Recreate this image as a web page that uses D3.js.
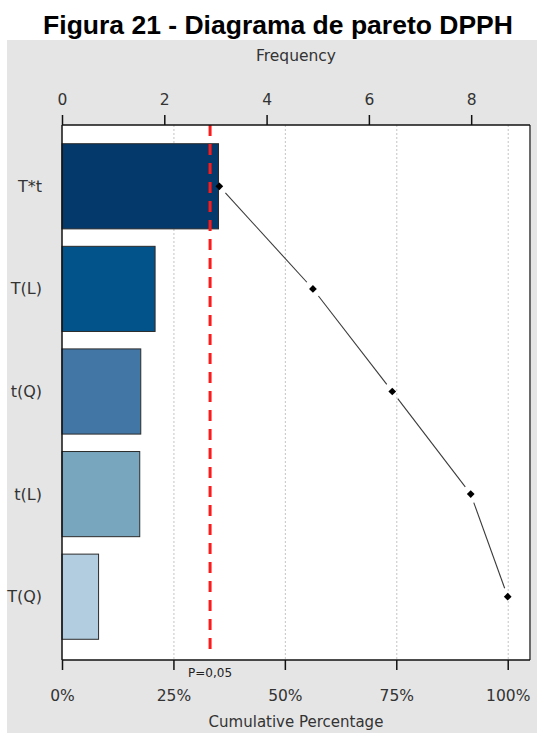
<!DOCTYPE html>
<html>
<head>
<meta charset="utf-8">
<script src="https://cdn.jsdelivr.net/npm/d3@7"></script>
<style>
  html, body { margin: 0; padding: 0; background: #ffffff; }
  svg { display: block; }
  text { font-family: "DejaVu Sans", sans-serif; }
</style>
</head>
<body>
<svg id="chart" width="537" height="733"></svg>
<script>
// Effects, in Pareto order
const categories = ["T*t", "T(L)", "t(Q)", "t(L)", "T(Q)"];
// Bar lengths on the Frequency axis
const frequency = [3.06, 1.82, 1.54, 1.52, 0.715];
// Cumulative percentage at each effect
const cumulativePct = [35.3, 56.3, 74.1, 91.7, 100];
// Bar fills
const barColors = ["#03396b", "#03538b", "#4277a5", "#79a6bf", "#b3cde0"];
// Axis ticks
const freqTicks = [0, 2, 4, 6, 8];
const pctTicks = [0, 25, 50, 75, 100];
// Significance limit (p = 0.05) on the Frequency axis
const pLimit = 2.895;
const pLabel = "P=0,05";

const svg = d3.select("#chart");
const W = 537, H = 733;
const plot = { left: 62, right: 530, top: 125, bottom: 660 };

// Gray panel behind the plot
svg.append("rect").attr("x", 7).attr("y", 40).attr("width", W - 7).attr("height", H - 40)
  .attr("fill", "#e5e5e5");

svg.append("text").attr("x", 278).attr("y", 34).attr("text-anchor", "middle")
  .style("font-family", "'Liberation Sans', Arial, sans-serif")
  .style("font-weight", "bold").style("font-size", "26.5px").attr("fill", "#000")
  .text("Figura 21 - Diagrama de pareto DPPH");

const xFreq = d3.scaleLinear().domain([0, 9.15]).range([plot.left, plot.right]);
const xPct = d3.scaleLinear().domain([0, 105]).range([plot.left, plot.right]);
const y = d3.scaleBand().domain(categories)
  .range([plot.top + 10, plot.bottom - 12]).paddingInner(0.17).paddingOuter(0.085);

// Plot area
svg.append("rect").attr("x", plot.left).attr("y", plot.top)
  .attr("width", plot.right - plot.left).attr("height", plot.bottom - plot.top)
  .attr("fill", "#ffffff");

// Dotted gridlines at the percentage ticks
svg.append("g").selectAll("line").data(pctTicks.filter(d => d > 0)).join("line")
  .attr("x1", d => xPct(d) + 0.5).attr("x2", d => xPct(d) + 0.5)
  .attr("y1", plot.top).attr("y2", plot.bottom)
  .attr("stroke", "#c4c4c4").attr("stroke-width", 1).attr("stroke-dasharray", "2,2");

// Bars
svg.append("g").selectAll("rect").data(categories).join("rect")
  .attr("x", xFreq(0)).attr("y", d => y(d))
  .attr("width", (d, i) => xFreq(frequency[i]) - xFreq(0))
  .attr("height", y.bandwidth())
  .attr("fill", (d, i) => barColors[i])
  .attr("stroke", "#2b2b2b").attr("stroke-width", 1);

// Significance limit
svg.append("line")
  .attr("x1", xFreq(pLimit)).attr("x2", xFreq(pLimit))
  .attr("y1", plot.top).attr("y2", plot.bottom - 4)
  .attr("stroke", "#ff1a1a").attr("stroke-width", 3).attr("stroke-dasharray", "11,8");

// Cumulative line: segments stop short of each marker
const pts = categories.map((c, i) => [xPct(cumulativePct[i]), y(c) + y.bandwidth() / 2]);
const gap = 9;
const segs = d3.pairs(pts).map(([a, b]) => {
  const dx = b[0] - a[0], dy = b[1] - a[1], len = Math.hypot(dx, dy);
  const ux = dx / len, uy = dy / len;
  return [[a[0] + ux * gap, a[1] + uy * gap], [b[0] - ux * gap, b[1] - uy * gap]];
});
svg.append("g").selectAll("path").data(segs).join("path")
  .attr("d", d => d3.line()(d)).attr("fill", "none")
  .attr("stroke", "#3a3a3a").attr("stroke-width", 1.1);

svg.append("g").selectAll("path").data(pts).join("path")
  .attr("d", d3.symbol(d3.symbolSquare, 30))
  .attr("transform", d => `translate(${d[0]},${d[1]}) rotate(45)`)
  .attr("fill", "#000");

// Plot frame
svg.append("line").attr("x1", plot.right).attr("x2", plot.right)
  .attr("y1", plot.top).attr("y2", plot.bottom).attr("stroke", "#6a6a6a").attr("stroke-width", 2);
svg.append("line").attr("x1", plot.left).attr("x2", plot.left)
  .attr("y1", plot.top).attr("y2", plot.bottom).attr("stroke", "#111").attr("stroke-width", 1.5);

// Top axis: Frequency
const topAxis = d3.axisTop(xFreq).tickValues(freqTicks).tickSize(10).tickPadding(10.5)
  .tickFormat(d3.format("d"));
const gTop = svg.append("g").attr("transform", `translate(0,${plot.top})`).call(topAxis);
gTop.select(".domain").attr("stroke", "#111").attr("stroke-width", 1.5)
  .attr("d", `M${plot.left},0H${plot.right}`);
gTop.selectAll(".tick line").attr("stroke", "#111").attr("stroke-width", 1.5);
gTop.selectAll(".tick text").attr("fill", "#333").style("font-size", "15.5px")
  .style("font-family", "'DejaVu Sans', sans-serif");

// Bottom axis: Cumulative Percentage
const botAxis = d3.axisBottom(xPct).tickValues(pctTicks).tickSize(10).tickPadding(20)
  .tickFormat(d => d + "%");
const gBot = svg.append("g").attr("transform", `translate(0,${plot.bottom})`).call(botAxis);
gBot.select(".domain").attr("stroke", "#111").attr("stroke-width", 1.5)
  .attr("d", `M${plot.left},0H${plot.right}`);
gBot.selectAll(".tick line").attr("stroke", "#111").attr("stroke-width", 1.5);
gBot.selectAll(".tick text").attr("fill", "#333").style("font-size", "15.5px")
  .style("font-family", "'DejaVu Sans', sans-serif");

// Category labels
svg.append("g").selectAll("text").data(categories).join("text")
  .attr("x", 42).attr("y", d => y(d) + y.bandwidth() / 2 + 5.5)
  .attr("text-anchor", "end").attr("fill", "#333").style("font-size", "16px")
  .text(d => d);

// Axis titles
svg.append("text").attr("x", (plot.left + plot.right) / 2).attr("y", 61)
  .attr("text-anchor", "middle").attr("fill", "#333").style("font-size", "15.5px").text("Frequency");
svg.append("text").attr("x", (plot.left + plot.right) / 2).attr("y", 727)
  .attr("text-anchor", "middle").attr("fill", "#333").style("font-size", "15px").text("Cumulative Percentage");

// Label for the significance limit
svg.append("text").attr("x", xFreq(pLimit)).attr("y", 677)
  .attr("text-anchor", "middle").attr("fill", "#222").style("font-size", "12px").text(pLabel);
</script>
</body>
</html>
